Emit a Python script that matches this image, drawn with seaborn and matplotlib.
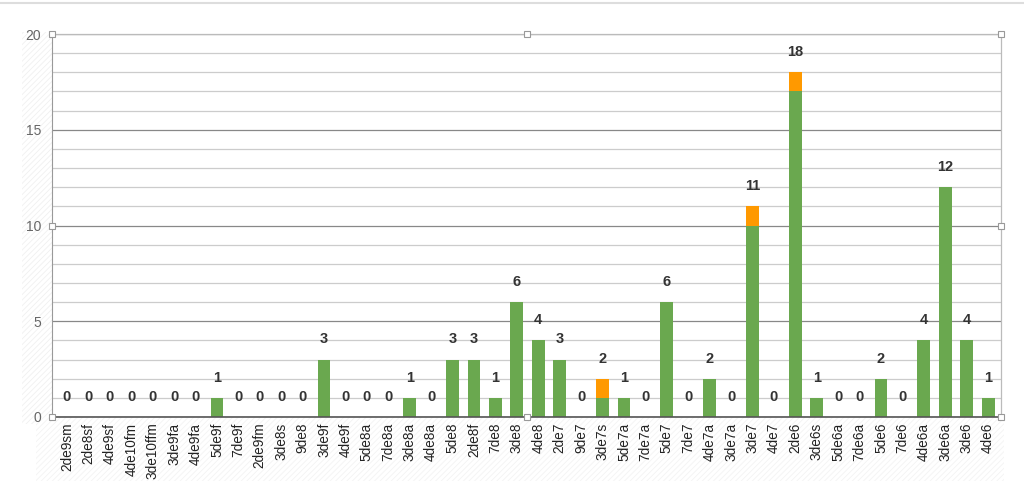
import numpy as np
import pandas as pd
import seaborn as sns
import matplotlib.pyplot as plt
from matplotlib.patches import Rectangle

categories = ['2de9sm', '2de8sf', '4de9sf', '4de10fm', '3de10ffm', '3de9fa', '4de9fa',
              '5de9f', '7de9f', '2de9fm', '3de8s', '9de8', '3de9f', '4de9f', '5de8a',
              '7de8a', '3de8a', '4de8a', '5de8', '2de8f', '7de8', '3de8', '4de8', '2de7',
              '9de7', '3de7s', '5de7a', '7de7a', '5de7', '7de7', '4de7a', '3de7a', '3de7',
              '4de7', '2de6', '3de6s', '5de6a', '7de6a', '5de6', '7de6', '4de6a', '3de6a',
              '3de6', '4de6']
green_vals = [0, 0, 0, 0, 0, 0, 0, 1, 0, 0, 0, 0, 3, 0, 0, 0, 1, 0, 3, 3, 1, 6, 4, 3,
              0, 1, 1, 0, 6, 0, 2, 0, 10, 0, 17, 1, 0, 0, 2, 0, 4, 12, 4, 1]
orange_vals = [0, 0, 0, 0, 0, 0, 0, 0, 0, 0, 0, 0, 0, 0, 0, 0, 0, 0, 0, 0, 0, 0, 0, 0,
               0, 1, 0, 0, 0, 0, 0, 0, 1, 0, 1, 0, 0, 0, 0, 0, 0, 0, 0, 0]

df = pd.DataFrame({'cat': categories, 'green': green_vals, 'orange': orange_vals})
df['total'] = df['green'] + df['orange']

sns.set_style('white')
plt.rcParams['font.family'] = ['Liberation Sans', 'DejaVu Sans']
plt.rcParams['hatch.linewidth'] = 0.6

fig = plt.figure(figsize=(10.24, 4.99), dpi=100)
ax = fig.add_axes([52 / 1024, 82 / 499, 949 / 1024, 383 / 499])

# faint hatched strips like the selection area in the original (behind everything)
fig.patches.append(Rectangle((22 / 1024, 75 / 499), 30 / 1024, 392 / 499, transform=fig.transFigure,
                             facecolor='white', edgecolor='#f0f0f0', hatch='//////', lw=0, zorder=-5))
fig.patches.append(Rectangle((36 / 1024, 18 / 499), 968 / 1024, 64 / 499, transform=fig.transFigure,
                             facecolor='white', edgecolor='#f3f3f3', hatch='//////', lw=0, zorder=-5))
fig.add_artist(plt.Line2D([0, 1], [496 / 499, 496 / 499], color='#dddddd', lw=1.5, zorder=-5))

# stacked bars: total in orange, green over it
sns.barplot(data=df, x='cat', y='total', color='#ff9900', saturation=1, width=0.6,
            linewidth=0, ax=ax, zorder=3)
sns.barplot(data=df, x='cat', y='green', color='#6aa84f', saturation=1, width=0.6,
            linewidth=0, ax=ax, zorder=4)

# value labels above bars
for i, t in enumerate(df['total']):
    ax.annotate(str(t), (i, t), xytext=(0, 14.5), textcoords='offset points', ha='center', va='center',
                fontsize=10.5, fontweight='bold', color='#333333', zorder=6)

ax.set_xlim(-0.7, 43.6)
ax.set_ylim(0, 20)
ax.set_yticks([0, 5, 10, 15, 20])
ax.set_yticks(np.arange(0, 21, 1), minor=True)
ax.yaxis.grid(True, which='minor', color='#cccccc', lw=0.9, zorder=0)
ax.yaxis.grid(True, which='major', color='#888888', lw=0.9, zorder=0)
ax.set_axisbelow(True)
ax.tick_params(axis='y', which='both', length=0, labelsize=10, labelcolor='#666666', pad=8)
ax.tick_params(axis='x', length=0, labelsize=9.8, labelcolor='#222222', rotation=90, pad=4)
ax.set_xlabel('')
ax.set_ylabel('')

for side in ['top', 'right']:
    ax.spines[side].set_color('#bbbbbb')
    ax.spines[side].set_linewidth(0.9)
ax.spines['left'].set_color('#999999')
ax.spines['bottom'].set_color('#555555')
ax.spines['bottom'].set_linewidth(1.2)
ax.spines['bottom'].set_zorder(5)

# selection handles
for hx, hy in [(0, 1), (0.5, 1), (1, 1), (0, 0.5), (1, 0.5), (0, 0), (0.5, 0), (1, 0)]:
    ax.plot(hx, hy, marker='s', ms=5, mfc='white', mec='#999999', mew=0.8,
            transform=ax.transAxes, clip_on=False, zorder=7)

fig.savefig('out.png', dpi=100)
